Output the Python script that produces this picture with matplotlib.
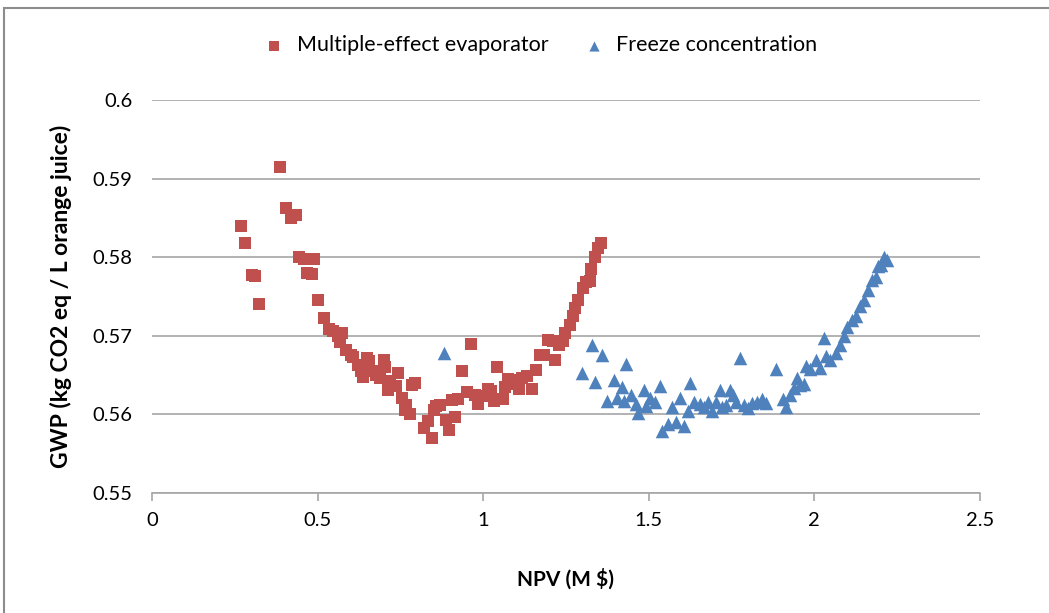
import matplotlib
matplotlib.use("Agg")
import matplotlib.pyplot as plt
from matplotlib.patches import Rectangle

# Multiple-effect evaporator (NPV in M$, GWP)
mee_npv = [0.269, 0.281, 0.302, 0.311, 0.323, 0.386, 0.405, 0.420, 0.435, 0.444,
           0.459, 0.468, 0.483, 0.489, 0.501, 0.519, 0.533, 0.545, 0.562, 0.575,
           0.568, 0.586, 0.600, 0.607, 0.622, 0.630, 0.637, 0.648, 0.655, 0.667,
           0.675, 0.688, 0.700, 0.703, 0.713, 0.719, 0.728, 0.737, 0.743, 0.755,
           0.764, 0.767, 0.779, 0.785, 0.794, 0.821, 0.832, 0.845, 0.851, 0.858,
           0.870, 0.888, 0.897, 0.906, 0.915, 0.925, 0.936, 0.951, 0.963, 0.975,
           0.984, 1.002, 1.014, 1.025, 1.033, 1.042, 1.060, 1.067, 1.075, 1.090,
           1.100, 1.108, 1.117, 1.132, 1.147, 1.159, 1.171, 1.185, 1.196, 1.210,
           1.217, 1.229, 1.240, 1.247, 1.262, 1.270, 1.277, 1.286, 1.301, 1.310,
           1.322, 1.325, 1.338, 1.347, 1.356]
mee_gwp = [0.5840, 0.5818, 0.5777, 0.5776, 0.5740, 0.5915, 0.5863, 0.5850, 0.5853, 0.5800,
           0.5798, 0.5780, 0.5779, 0.5798, 0.5746, 0.5723, 0.5708, 0.5706, 0.5700, 0.5703,
           0.5692, 0.5682, 0.5676, 0.5673, 0.5663, 0.5655, 0.5648, 0.5671, 0.5668, 0.5655,
           0.5650, 0.5646, 0.5669, 0.5660, 0.5631, 0.5642, 0.5636, 0.5636, 0.5652, 0.5621,
           0.5605, 0.5612, 0.5600, 0.5637, 0.5640, 0.5583, 0.5592, 0.5570, 0.5605, 0.5610,
           0.5612, 0.5593, 0.5580, 0.5618, 0.5596, 0.5620, 0.5655, 0.5628, 0.5690, 0.5625,
           0.5613, 0.5623, 0.5632, 0.5630, 0.5617, 0.5660, 0.5620, 0.5635, 0.5645, 0.5638,
           0.5643, 0.5632, 0.5646, 0.5649, 0.5632, 0.5656, 0.5675, 0.5675, 0.5695, 0.5693,
           0.5669, 0.5688, 0.5693, 0.5704, 0.5714, 0.5725, 0.5735, 0.5746, 0.5761, 0.5768,
           0.5770, 0.5785, 0.5800, 0.5812, 0.5818]

# Freeze concentration
fc_npv = [0.882, 1.298, 1.329, 1.338, 1.359, 1.374, 1.395, 1.405, 1.419, 1.426,
          1.432, 1.447, 1.462, 1.468, 1.486, 1.492, 1.504, 1.519, 1.534, 1.540,
          1.558, 1.570, 1.582, 1.594, 1.606, 1.618, 1.624, 1.636, 1.655, 1.667,
          1.679, 1.691, 1.703, 1.715, 1.721, 1.733, 1.745, 1.754, 1.763, 1.775,
          1.787, 1.799, 1.812, 1.827, 1.842, 1.854, 1.884, 1.905, 1.914, 1.926,
          1.938, 1.947, 1.957, 1.969, 1.975, 1.987, 2.005, 2.017, 2.029, 2.035,
          2.047, 2.065, 2.077, 2.089, 2.098, 2.114, 2.126, 2.138, 2.150, 2.162,
          2.174, 2.186, 2.192, 2.201, 2.210, 2.219]
fc_gwp = [0.5678, 0.5653, 0.5688, 0.5641, 0.5676, 0.5617, 0.5643, 0.5621, 0.5635, 0.5617,
          0.5664, 0.5625, 0.5613, 0.5601, 0.5631, 0.5611, 0.5621, 0.5615, 0.5636, 0.5579,
          0.5588, 0.5609, 0.5590, 0.5621, 0.5585, 0.5604, 0.5640, 0.5616, 0.5613, 0.5609,
          0.5616, 0.5604, 0.5615, 0.5631, 0.5609, 0.5612, 0.5631, 0.5625, 0.5615, 0.5672,
          0.5612, 0.5608, 0.5614, 0.5616, 0.5620, 0.5614, 0.5657, 0.5620, 0.5609, 0.5625,
          0.5634, 0.5646, 0.5637, 0.5639, 0.5662, 0.5657, 0.5669, 0.5659, 0.5697, 0.5674,
          0.5669, 0.5678, 0.5688, 0.5700, 0.5711, 0.5720, 0.5725, 0.5738, 0.5746, 0.5758,
          0.5771, 0.5775, 0.5789, 0.5790, 0.5800, 0.5796]

x_ticks = [0, 0.5, 1, 1.5, 2, 2.5]
x_labels = ["0", "0.5", "1", "1.5", "2", "2.5"]
y_ticks = [0.55, 0.56, 0.57, 0.58, 0.59, 0.6]
y_labels = ["0.55", "0.56", "0.57", "0.58", "0.59", "0.6"]

plt.rcParams["font.family"] = ["Lato", "DejaVu Sans"]

fig = plt.figure(figsize=(10.49, 6.13), dpi=100)
ax = fig.add_axes([0.145, 0.196, 0.789, 0.641])

ax.scatter(mee_npv, mee_gwp, marker="s", s=80, color="#C0504D",
           label="Multiple-effect evaporator", zorder=3, linewidths=0)
ax.scatter(fc_npv, fc_gwp, marker="^", s=95, color="#4F81BD",
           label="Freeze concentration", zorder=3, linewidths=0)

ax.set_xlim(0, 2.5)
ax.set_ylim(0.55, 0.6)
ax.set_xticks(x_ticks)
ax.set_xticklabels(x_labels, fontsize=14.5)
ax.set_yticks(y_ticks)
ax.set_yticklabels(y_labels, fontsize=14.5)
ax.yaxis.grid(True, color="#A6A6A6", linewidth=1.2)
ax.set_axisbelow(True)

for side in ["top", "right"]:
    ax.spines[side].set_visible(False)
ax.spines["left"].set_visible(False)
ax.spines["bottom"].set_color("#A6A6A6")
ax.spines["bottom"].set_linewidth(1.2)
ax.tick_params(axis="x", color="#A6A6A6", length=6, width=1.2, pad=8)
ax.tick_params(axis="y", length=0, pad=14)

ax.set_xlabel("NPV (M $)", fontsize=15, fontweight="bold", labelpad=28)
ax.set_ylabel("GWP (kg CO2 eq / L orange juice)", fontsize=16.5, fontweight="bold", labelpad=15)

fig.legend(loc="center", bbox_to_anchor=(0.51, 0.926), ncol=2, frameon=False,
           fontsize=15.5, handletextpad=0.05, columnspacing=1.1, markerscale=0.75)

fig.patches.append(Rectangle((0.004, -0.01), 1.1, 0.997, transform=fig.transFigure,
                             fill=False, edgecolor="#8C8C8C", linewidth=1.5))

fig.savefig("out.png", dpi=100)
